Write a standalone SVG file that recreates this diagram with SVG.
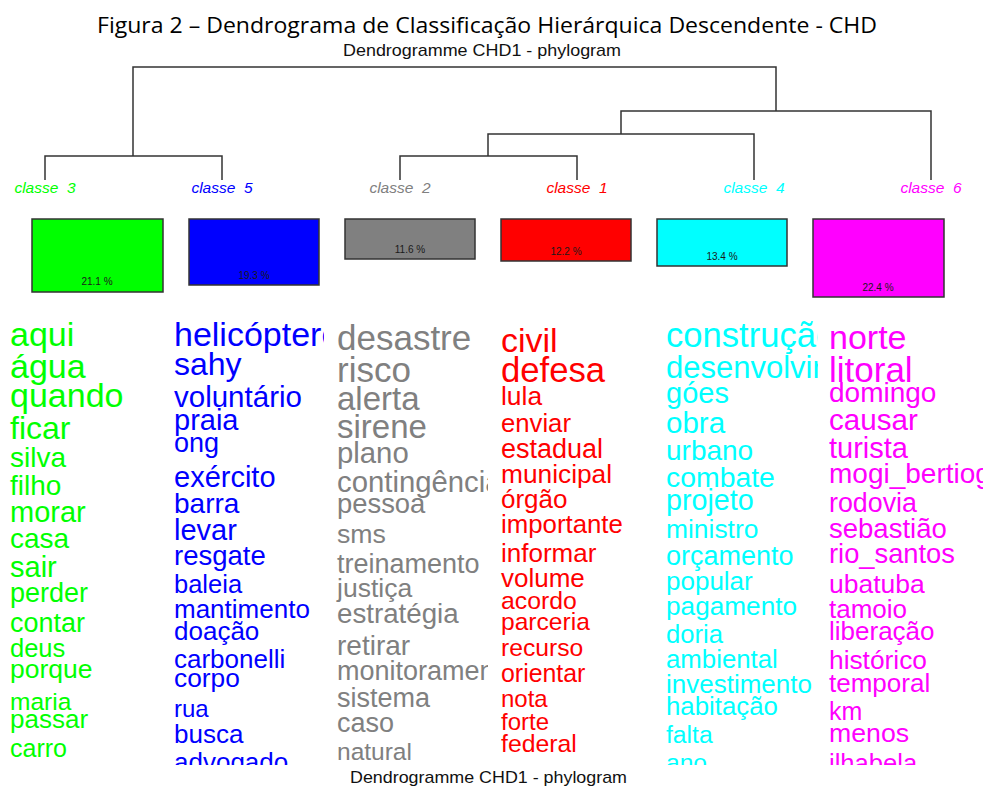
<svg xmlns="http://www.w3.org/2000/svg" width="983" height="787" viewBox="0 0 983 787">
<style>
text{font-family:"Liberation Sans",Arial,sans-serif}
.title{font-family:"Open Sans","Noto Sans",sans-serif;font-size:22px;fill:#000}
.sub{font-size:17px;fill:#111}
.lbl{font-size:15.5px;font-style:italic;text-anchor:middle}
.pct{font-size:10px;fill:#1a1a1a;text-anchor:middle}
.box{stroke:#333;stroke-width:1.5}
.edge{stroke:#333;stroke-width:1.5;fill:none}
.c3{fill:#00ff00}.c5{fill:#0000ff}.c2{fill:#808080}.c1{fill:#ff0000}.c4{fill:#00ffff}.c6{fill:#ff00ff}
</style>
<defs>
<clipPath id="k3"><rect x="0" y="312" width="163" height="453"/></clipPath>
<clipPath id="k5"><rect x="165" y="312" width="159" height="453"/></clipPath>
<clipPath id="k2"><rect x="330" y="312" width="158" height="453"/></clipPath>
<clipPath id="k1"><rect x="492" y="312" width="161" height="453"/></clipPath>
<clipPath id="k4"><rect x="658" y="312" width="160" height="453"/></clipPath>
<clipPath id="k6"><rect x="822" y="312" width="161" height="453"/></clipPath>
</defs>
<rect width="983" height="787" fill="#fff"/>
<text class="title" x="97" y="33" textLength="780" lengthAdjust="spacingAndGlyphs">Figura 2 – Dendrograma de Classificação Hierárquica Descendente - CHD</text>
<text class="sub" x="343" y="56" textLength="278" lengthAdjust="spacingAndGlyphs">Dendrogramme CHD1 - phylogram</text>

<g id="connectors">
<path class="edge" d="M133,156 V67 H776 V111"/>
<path class="edge" d="M45,180 V156 H222 V180"/>
<path class="edge" d="M621,134 V111 H931 V180"/>
<path class="edge" d="M488,156 V134 H754 V180"/>
<path class="edge" d="M400,180 V156 H577 V180"/>
</g>

<g id="classe-3">
<text class="lbl c3" x="45" y="193">classe&#160; 3</text>
<rect class="box c3" x="32" y="219" width="131" height="73"/>
<text class="pct" x="97" y="285">21.1 %</text>
<g clip-path="url(#k3)" class="c3">
<text x="10" y="346" style="font-size:34px">aqui</text>
<text x="10" y="378" style="font-size:34px">água</text>
<text x="10" y="407" style="font-size:34px">quando</text>
<text x="10" y="439" style="font-size:32px">ficar</text>
<text x="10" y="467" style="font-size:28px">silva</text>
<text x="10" y="495" style="font-size:28px">filho</text>
<text x="10" y="522" style="font-size:29px">morar</text>
<text x="10" y="548" style="font-size:28px">casa</text>
<text x="10" y="577" style="font-size:29px">sair</text>
<text x="10" y="602" style="font-size:27px">perder</text>
<text x="10" y="632" style="font-size:27px">contar</text>
<text x="10" y="657" style="font-size:25.5px">deus</text>
<text x="10" y="678" style="font-size:26.5px">porque</text>
<text x="10" y="710" style="font-size:24.5px">maria</text>
<text x="10" y="728" style="font-size:26px">passar</text>
<text x="10" y="757" style="font-size:25px">carro</text>
</g>
</g>

<g id="classe-5">
<text class="lbl c5" x="222" y="193">classe&#160; 5</text>
<rect class="box c5" x="189" y="219" width="130" height="66"/>
<text class="pct" x="254" y="279">19.3 %</text>
<g clip-path="url(#k5)" class="c5">
<text x="174" y="346" style="font-size:34px">helicóptero</text>
<text x="174" y="375" style="font-size:32px">sahy</text>
<text x="174" y="407" style="font-size:29.5px">voluntário</text>
<text x="174" y="430" style="font-size:29px">praia</text>
<text x="174" y="452" style="font-size:27px">ong</text>
<text x="174" y="487" style="font-size:29px">exército</text>
<text x="174" y="513" style="font-size:28px">barra</text>
<text x="174" y="540" style="font-size:29px">levar</text>
<text x="174" y="565" style="font-size:27.5px">resgate</text>
<text x="174" y="593" style="font-size:25.5px">baleia</text>
<text x="174" y="618" style="font-size:26px">mantimento</text>
<text x="174" y="640" style="font-size:26px">doação</text>
<text x="174" y="668" style="font-size:26px">carbonelli</text>
<text x="174" y="687" style="font-size:26.3px">corpo</text>
<text x="174" y="717" style="font-size:24px">rua</text>
<text x="174" y="743" style="font-size:26px">busca</text>
<text x="174" y="771" style="font-size:26px">advogado</text>
</g>
</g>

<g id="classe-2">
<text class="lbl c2" x="400" y="193">classe&#160; 2</text>
<rect class="box c2" x="345" y="219" width="130" height="40"/>
<text class="pct" x="410" y="253">11.6 %</text>
<g clip-path="url(#k2)" class="c2">
<text x="337" y="350" style="font-size:35px">desastre</text>
<text x="337" y="382" style="font-size:35px">risco</text>
<text x="337" y="410" style="font-size:33px">alerta</text>
<text x="337" y="438" style="font-size:33px">sirene</text>
<text x="337" y="463" style="font-size:29.3px">plano</text>
<text x="337" y="492" style="font-size:29.3px">contingência</text>
<text x="337" y="513" style="font-size:27.4px">pessoa</text>
<text x="337" y="543" style="font-size:26.7px">sms</text>
<text x="337" y="573" style="font-size:27px">treinamento</text>
<text x="337" y="597" style="font-size:26.5px">justiça</text>
<text x="337" y="623" style="font-size:27.7px">estratégia</text>
<text x="337" y="655" style="font-size:28px">retirar</text>
<text x="337" y="680" style="font-size:27px">monitoramento</text>
<text x="337" y="707" style="font-size:27px">sistema</text>
<text x="337" y="732" style="font-size:27px">caso</text>
<text x="337" y="760" style="font-size:24.5px">natural</text>
</g>
</g>

<g id="classe-1">
<text class="lbl c1" x="577" y="193">classe&#160; 1</text>
<rect class="box c1" x="501" y="219" width="130" height="42"/>
<text class="pct" x="566" y="255">12.2 %</text>
<g clip-path="url(#k1)" class="c1">
<text x="501" y="352" style="font-size:34px">civil</text>
<text x="501" y="382" style="font-size:34.7px">defesa</text>
<text x="501" y="405" style="font-size:26.4px">lula</text>
<text x="501" y="432" style="font-size:25.7px">enviar</text>
<text x="501" y="458" style="font-size:27px">estadual</text>
<text x="501" y="483" style="font-size:26.3px">municipal</text>
<text x="501" y="508" style="font-size:26px">órgão</text>
<text x="501" y="533" style="font-size:25.8px">importante</text>
<text x="501" y="562" style="font-size:26px">informar</text>
<text x="501" y="587" style="font-size:26px">volume</text>
<text x="501" y="609" style="font-size:24.8px">acordo</text>
<text x="501" y="630" style="font-size:24.6px">parceria</text>
<text x="501" y="656" style="font-size:24.7px">recurso</text>
<text x="501" y="682" style="font-size:24.9px">orientar</text>
<text x="501" y="707" style="font-size:24px">nota</text>
<text x="501" y="730" style="font-size:24px">forte</text>
<text x="501" y="752" style="font-size:24.8px">federal</text>
</g>
</g>

<g id="classe-4">
<text class="lbl c4" x="754" y="193">classe&#160; 4</text>
<rect class="box c4" x="657" y="219" width="130" height="47"/>
<text class="pct" x="722" y="260">13.4 %</text>
<g clip-path="url(#k4)" class="c4">
<text x="666" y="347" style="font-size:34.6px">construção</text>
<text x="666" y="378" style="font-size:31px">desenvolvimento</text>
<text x="666" y="403" style="font-size:29px">góes</text>
<text x="666" y="433" style="font-size:29.5px">obra</text>
<text x="666" y="460" style="font-size:28px">urbano</text>
<text x="666" y="487" style="font-size:28.4px">combate</text>
<text x="666" y="510" style="font-size:28.7px">projeto</text>
<text x="666" y="538" style="font-size:26.4px">ministro</text>
<text x="666" y="565" style="font-size:27px">orçamento</text>
<text x="666" y="590" style="font-size:26px">popular</text>
<text x="666" y="615" style="font-size:26.2px">pagamento</text>
<text x="666" y="643" style="font-size:25.6px">doria</text>
<text x="666" y="668" style="font-size:25.8px">ambiental</text>
<text x="666" y="693" style="font-size:26px">investimento</text>
<text x="666" y="715" style="font-size:25.8px">habitação</text>
<text x="666" y="743" style="font-size:24.7px">falta</text>
<text x="666" y="771" style="font-size:24.6px">ano</text>
</g>
</g>

<g id="classe-6">
<text class="lbl c6" x="931" y="193">classe&#160; 6</text>
<rect class="box c6" x="813" y="219" width="131" height="78"/>
<text class="pct" x="878" y="291">22.4 %</text>
<g clip-path="url(#k6)" class="c6">
<text x="829" y="349" style="font-size:34px">norte</text>
<text x="829" y="382" style="font-size:35px">litoral</text>
<text x="829" y="402" style="font-size:28px">domingo</text>
<text x="829" y="430" style="font-size:29.6px">causar</text>
<text x="829" y="458" style="font-size:29px">turista</text>
<text x="829" y="483" style="font-size:28px">mogi_bertioga</text>
<text x="829" y="512" style="font-size:26.8px">rodovia</text>
<text x="829" y="538" style="font-size:27.5px">sebastião</text>
<text x="829" y="563" style="font-size:27.3px">rio_santos</text>
<text x="829" y="593" style="font-size:26.5px">ubatuba</text>
<text x="829" y="618" style="font-size:26px">tamoio</text>
<text x="829" y="640" style="font-size:26px">liberação</text>
<text x="829" y="669" style="font-size:26.3px">histórico</text>
<text x="829" y="692" style="font-size:26px">temporal</text>
<text x="829" y="720" style="font-size:25px">km</text>
<text x="829" y="742" style="font-size:26.7px">menos</text>
<text x="829" y="772" style="font-size:25.6px">ilhabela</text>
</g>
</g>

<text class="sub" x="350" y="783" textLength="277" lengthAdjust="spacingAndGlyphs">Dendrogramme CHD1 - phylogram</text>
</svg>
